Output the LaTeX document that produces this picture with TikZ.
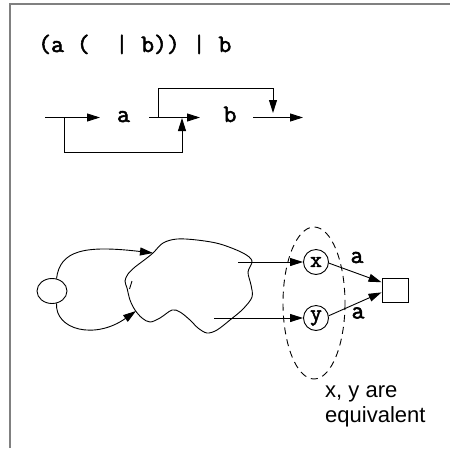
\documentclass[tikz,border=0pt]{standalone}
\usepackage{fontspec}
\setmainfont{Liberation Sans}
\newfontfamily\ttbold[FakeBold=2.2]{Latin Modern Mono}
\usetikzlibrary{arrows.meta,shapes.geometric}
\definecolor{framegray}{RGB}{128,128,128}
\begin{document}
\begin{tikzpicture}[x=1pt,y=-1pt,
  ln/.style={line width=0.9pt},
  arr/.style={ln,-{Triangle[length=13pt,width=8pt]}},
  tt/.style={font=\fontsize{25}{28}\selectfont\ttbold, inner sep=0pt},
  sf/.style={font=\fontsize{22}{26}\selectfont, inner sep=0pt},
  st/.style={circle, draw, ln, minimum size=25pt, inner sep=0pt, font=\fontsize{23}{26}\selectfont\ttbold},
  frame/.style={line width=2pt, draw=framegray}]
\useasboundingbox (0,0) rectangle (450,448);
\draw[frame] (9.5,448) -- (9.5,3.5) -- (450,3.5);
% title
\node[tt, anchor=base west] (title) at (38,52) {(a (~~| b)) | b};
% top row
\node[tt, anchor=base] (la) at (123.5,122) {a};
\node[tt, anchor=base] (lb) at (230,122) {b};
\coordinate (r0) at (45,117.5);
\coordinate (r1) at (100,117.5);
\coordinate (r2) at (149,117.5);
\coordinate (r3) at (200,117.5);
\coordinate (r4) at (253,117.5);
\coordinate (r5) at (303,117.5);
\coordinate (j1) at (64,117.5);
\coordinate (j2) at (182,118);
\coordinate (j3) at (158,117.5);
\coordinate (j4) at (273,113);
\draw[arr] (r0) -- (r1);
\draw[arr] (r2) -- (r3);
\draw[arr] (r4) -- (r5);
\draw[arr] (j1) -- ++(0,34.5) -| (j2);
\draw[arr] (j3) -- ++(0,-29.5) -| (j4);
% bottom: automaton
\node[ellipse, draw, ln, minimum width=30pt, minimum height=25pt, inner sep=0pt] (s) at (52,291) {};
\coordinate (cin1) at (153,253);
\coordinate (cin2) at (136,311);
\draw[arr] (s.70) .. controls (60,250) and (85,245) .. (cin1);
\draw[arr] (s.-70) .. controls (55,330) and (95,340) .. (cin2);
\draw[ln] plot[smooth cycle, tension=0.55] coordinates {
 (153,253) (163,243) (177,239) (197,240) (220,244) (243,253) (252,261) (248,272)
 (251,285) (252,297) (243,309) (230,320) (217,330) (207,333) (198,328) (190,320)
 (180,312) (172,310) (160,318) (150,322) (142,318) (135,310) (130,300) (127,288)
 (125,281) (128,274) (135,267) (143,261)};
\draw[ln] (132,281) -- (129.5,289);
\node[st] (x) at (316,262) {x};
\node[st] (y) at (316,318) {y};
\node[draw, ln, minimum width=26pt, minimum height=24pt, inner sep=0pt] (sq) at (395,290) {};
\coordinate (px) at (238,262);
\coordinate (py) at (214,318);
\draw[arr] (px) -- (x.west);
\draw[arr] (py) -- (y.west);
\draw[arr] (x.-5) -- (sq.150);
\draw[arr] (y.10) -- (sq.190);
\node[tt] (ea1) at (357,257.5) {a};
\node[tt] (ea2) at (358,313) {a};
\draw[ln, dash pattern=on 7pt off 5pt] (314,303) ellipse [x radius=31, y radius=76];
\node[sf, anchor=base west] (t1) at (325,397) {x, y are};
\node[sf, anchor=base west] (t2) at (325,422) {equivalent};
\end{tikzpicture}
\end{document}
